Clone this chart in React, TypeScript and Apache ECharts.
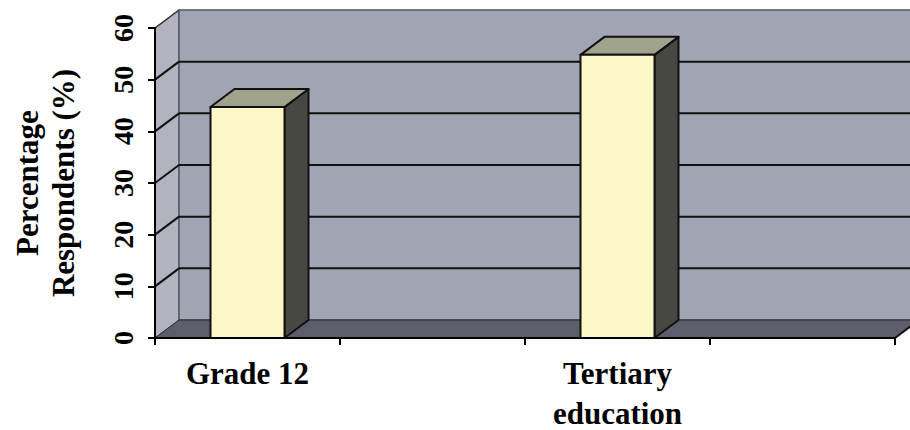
import React, { useEffect, useRef } from "react";
import * as echarts from "echarts";

// Category slots on the axis (Excel skipped every other label)
const categories = ["Grade 12", "", "Tertiary\neducation", ""];
const values: (number | null)[] = [44.7, null, 54.8, null];
const yTicks = [0, 10, 20, 30, 40, 50, 60];
const yAxisTitle = "Percentage\nRespondents (%)";

const DX = 24;
const DY = -18;
const FONT = "Liberation Serif, Times New Roman, serif";

export default function App() {
  const ref = useRef<HTMLDivElement>(null);
  useEffect(() => {
    document.body.style.margin = "0";
    const chart = echarts.init(ref.current!, null, { renderer: "svg" });

    const wallsItem = (params: any, api: any) => {
      const cs = params.coordSys;
      const left = cs.x;
      const right = cs.x + cs.width;
      const top = cs.y;
      const bottom = cs.y + cs.height;
      const children: any[] = [];
      children.push({
        type: "polygon",
        shape: { points: [[left, top], [left + DX, top + DY], [left + DX, bottom + DY], [left, bottom]] },
        style: { fill: "#b1b3be", stroke: "#55565f", lineWidth: 1 },
      });
      children.push({
        type: "rect",
        shape: { x: left + DX, y: top + DY, width: right - left + 40, height: bottom - top },
        style: { fill: "#a1a4b3", stroke: "#55565f", lineWidth: 1.5 },
      });
      children.push({
        type: "polygon",
        shape: { points: [[left, bottom], [left + DX, bottom + DY], [right + DX, bottom + DY], [right, bottom]] },
        style: { fill: "#5d5e6b", stroke: "#2a2a30", lineWidth: 1 },
      });
      yTicks.forEach((v) => {
        if (v === 0 || v === 60) return;
        const y = api.coord([0, v])[1];
        children.push({
          type: "line",
          shape: { x1: left + DX, y1: y + DY, x2: right + DX + 40, y2: y + DY },
          style: { stroke: "#111", lineWidth: 2 },
        });
        children.push({
          type: "line",
          shape: { x1: left, y1: y, x2: left + DX, y2: y + DY },
          style: { stroke: "#111", lineWidth: 2 },
        });
      });
      const y60 = api.coord([0, 60])[1];
      children.push({
        type: "line",
        shape: { x1: left, y1: y60, x2: left + DX, y2: y60 + DY },
        style: { stroke: "#333", lineWidth: 1.5 },
      });
      children.push({
        type: "line",
        shape: { x1: right, y1: bottom, x2: right + DX, y2: bottom + DY },
        style: { stroke: "#111", lineWidth: 2 },
      });
      return { type: "group", children };
    };

    const barItem = (params: any, api: any) => {
      const idx = api.value(0);
      const val = api.value(1);
      const base = api.coord([idx, 0]);
      const topP = api.coord([idx, val]);
      const bw = api.size([1, 0])[0] * 0.4;
      const x1 = base[0] - bw / 2;
      const x2 = base[0] + bw / 2;
      const yt = topP[1];
      const yb = base[1];
      const stroke = { stroke: "#111", lineWidth: 2, lineJoin: "round" };
      return {
        type: "group",
        children: [
          {
            type: "polygon",
            shape: { points: [[x2, yt], [x2 + DX, yt + DY], [x2 + DX, yb + DY], [x2, yb]] },
            style: { fill: "#474842", ...stroke },
          },
          {
            type: "polygon",
            shape: { points: [[x1, yt], [x1 + DX, yt + DY], [x2 + DX, yt + DY], [x2, yt]] },
            style: { fill: "#9fa38b", ...stroke },
          },
          {
            type: "rect",
            shape: { x: x1, y: yt, width: bw, height: yb - yt },
            style: { fill: "#fcf7c6", ...stroke },
          },
        ],
      };
    };

    const barData = values
      .map((v, i) => (v == null ? null : [i, v]))
      .filter((d) => d != null);

    const option: any = {
      animation: false,
      backgroundColor: "#ffffff",
      grid: { left: 155, right: 15, top: 28, bottom: 92, outerBoundsMode: "none", containLabel: false },
      xAxis: {
        type: "category",
        data: categories,
        boundaryGap: true,
        z: 10,
        axisLine: { show: true, lineStyle: { color: "#000", width: 2 } },
        axisTick: { show: true, interval: 0, length: 7, lineStyle: { color: "#000", width: 2 } },
        axisLabel: {
          interval: 0,
          color: "#000",
          fontFamily: FONT,
          fontWeight: "bold",
          fontSize: 31,
          lineHeight: 40,
          margin: 15,
        },
        splitLine: { show: false },
      },
      yAxis: {
        type: "value",
        min: 0,
        max: 60,
        interval: 10,
        z: 10,
        axisLine: { show: true, lineStyle: { color: "#000", width: 2 } },
        axisTick: { show: true, length: 7, lineStyle: { color: "#000", width: 2 } },
        axisLabel: {
          rotate: 90,
          color: "#000",
          fontFamily: FONT,
          fontWeight: "bold",
          fontSize: 28,
          margin: 18,
        },
        splitLine: { show: false },
        name: yAxisTitle,
        nameLocation: "middle",
        nameRotate: 90,
        nameGap: 74,
        nameTextStyle: {
          color: "#000",
          fontFamily: FONT,
          fontWeight: "bold",
          fontSize: 31,
          lineHeight: 36,
        },
      },
      series: [
        {
          type: "custom",
          name: "walls",
          z: 1,
          silent: true,
          data: [[0, 0]],
          renderItem: wallsItem,
        },
        {
          type: "custom",
          name: "Percentage",
          z: 3,
          data: barData,
          encode: { x: 0, y: 1 },
          renderItem: barItem,
        },
      ],
    };
    chart.setOption(option);
    return () => chart.dispose();
  }, []);
  return <div ref={ref} style={{ width: 910, height: 430 }} />;
}
